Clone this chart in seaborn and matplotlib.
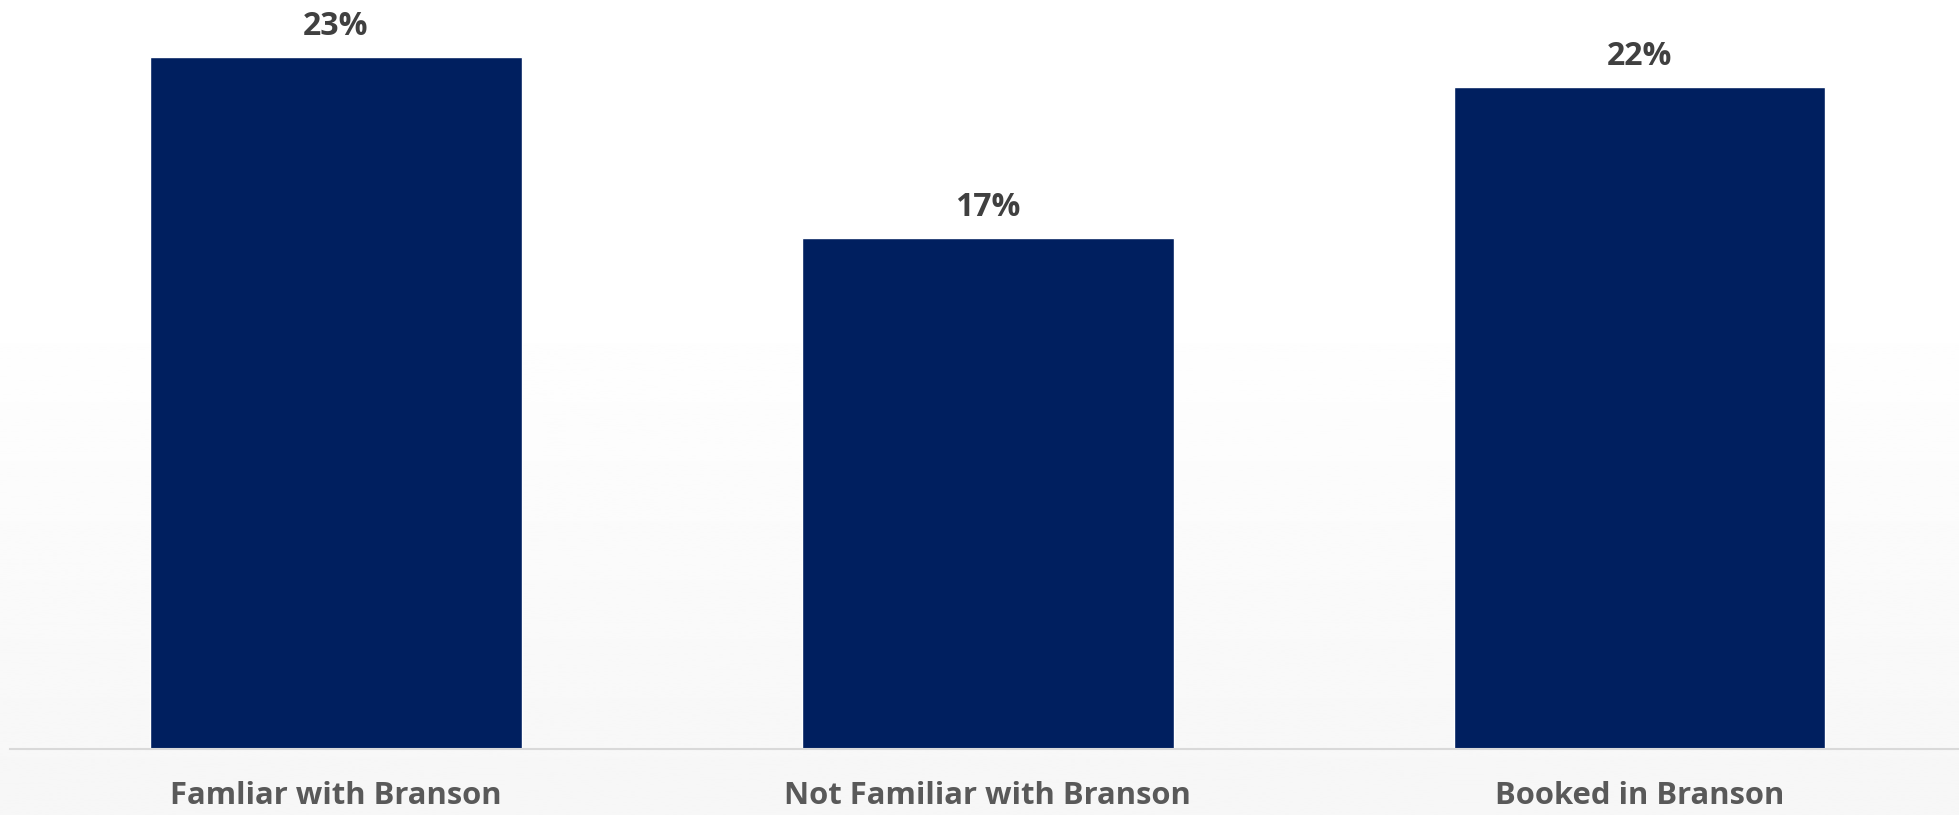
import numpy as np
import pandas as pd
import matplotlib
matplotlib.use("Agg")
import matplotlib.pyplot as plt
import seaborn as sns

# Share of respondents by Branson group
categories = ["Famliar with Branson", "Not Familiar with Branson", "Booked in Branson"]
values = [23, 17, 22]
value_labels = ["23%", "17%", "22%"]

sns.set_theme(style="white")
plt.rcParams["font.family"] = ["Open Sans", "DejaVu Sans"]

W, H = 1959, 815
fig = plt.figure(figsize=(W / 100, H / 100), dpi=100)

# soft white-to-grey background wash
bg = fig.add_axes([0, 0, 1, 1], zorder=-10)
rows = np.linspace(0, 1, 400)
shade = np.where(rows < 0.35, 1.0, 1.0 - (rows - 0.35) / 0.65 * 0.035)
bg.imshow(np.repeat(shade[:, None], 2, axis=1), cmap="gray", vmin=0, vmax=1,
          aspect="auto", extent=[0, 1, 0, 1], origin="upper")
bg.set_axis_off()

ax = fig.add_axes([10 / W, 66 / H, 1 - 10 / W, 1 - 66 / H])
ax.patch.set_alpha(0)

df = pd.DataFrame({"group": categories, "share": values})
sns.barplot(data=df, x="group", y="share", color="#001F5F", saturation=1,
            width=0.57, ax=ax)

ax.set_xlim(-0.5, 2.49)
ax.set_ylim(0, 24.9)
ax.set_xlabel("")
ax.set_ylabel("")
ax.set_yticks([])

for spine in ["top", "right", "left"]:
    ax.spines[spine].set_visible(False)
ax.spines["bottom"].set_color("#D9D9D9")
ax.spines["bottom"].set_linewidth(1.5)

ax.tick_params(axis="x", length=0, pad=23)
for lbl in ax.get_xticklabels():
    lbl.set_fontsize(22.3)
    lbl.set_fontweight("bold")
    lbl.set_color("#595959")

for i, (v, t) in enumerate(zip(values, value_labels)):
    ax.annotate(t, xy=(i, v), xytext=(0, 10), textcoords="offset points",
                ha="center", va="bottom", fontsize=23, fontweight="bold",
                color="#404040")

fig.savefig("out.png", dpi=100)
